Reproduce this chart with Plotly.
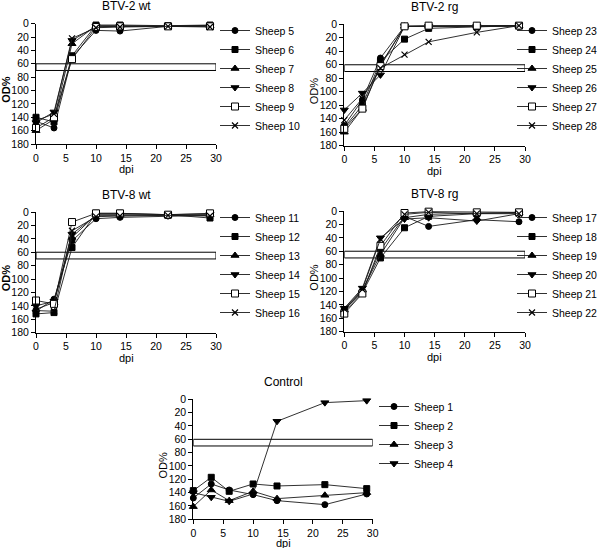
import plotly.graph_objects as go

W, H = 600, 548
days = [0, 3, 6, 10, 14, 22, 29]
x_ticks = [0, 5, 10, 15, 20, 25, 30]
y_ticks = [0, 20, 40, 60, 80, 100, 120, 140, 160, 180]
cutoff_low, cutoff_high = 60, 70

# ---- data (OD% per sheep) ----
btv2wt_names = ["Sheep 5", "Sheep 6", "Sheep 7", "Sheep 8", "Sheep 9", "Sheep 10"]
btv2wt_vals = [
    [146, 156, 50, 10, 11, 4, 3],
    [140, 147, 48, 2, 2, 3, 2],
    [160, 143, 30, 3, 3, 4, 3],
    [148, 132, 25, 4, 4, 3, 3],
    [156, 140, 53, 5, 4, 4, 4],
    [145, 135, 22, 6, 5, 4, 5],
]

btv2rg_names = ["Sheep 23", "Sheep 24", "Sheep 25", "Sheep 26", "Sheep 27", "Sheep 28"]
btv2rg_vals = [
    [150, 112, 50, 3, 3, 3, 3],
    [153, 120, 55, 22, 6, 4, 2],
    [160, 125, 60, 3, 3, 2, 2],
    [127, 102, 75, 3, 3, 3, 2],
    [155, 125, 62, 3, 2, 2, 2],
    [142, 110, 65, 45, 26, 12, 2],
]

btv8wt_names = ["Sheep 11", "Sheep 12", "Sheep 13", "Sheep 14", "Sheep 15", "Sheep 16"]
btv8wt_vals = [
    [148, 130, 43, 10, 8, 6, 5],
    [152, 150, 53, 2, 2, 4, 9],
    [145, 135, 38, 4, 4, 5, 4],
    [140, 133, 33, 5, 5, 4, 3],
    [132, 137, 15, 2, 2, 4, 2],
    [147, 148, 28, 7, 6, 5, 6],
]

btv8rg_names = ["Sheep 17", "Sheep 18", "Sheep 19", "Sheep 20", "Sheep 21", "Sheep 22"]
btv8rg_vals = [
    [147, 120, 58, 8, 23, 13, 16],
    [150, 122, 70, 25, 8, 4, 2],
    [148, 118, 65, 10, 5, 3, 3],
    [145, 115, 40, 12, 10, 15, 4],
    [153, 123, 52, 3, 1, 2, 2],
    [146, 117, 42, 5, 2, 4, 4],
]

control_names = ["Sheep 1", "Sheep 2", "Sheep 3", "Sheep 4"]
control_vals = [
    [148, 127, 136, 143, 152, 158, 142],
    [137, 117, 138, 127, 130, 128, 134],
    [161, 136, 152, 138, 149, 144, 140],
    [140, 147, 153, 142, 33, 5, 2],
]

panel_titles = ["BTV-2 wt", "BTV-2 rg", "BTV-8 wt", "BTV-8 rg", "Control"]

# ---- layout geometry (pixels) ----
def px_x(p):
    return p / W

def px_y(p):
    return 1 - p / H

panels = [
    dict(names=btv2wt_names, vals=btv2wt_vals, x=(36, 216), y=(23.7, 144), bold=True,
         leg=(215, 16), dpi=169),
    dict(names=btv2rg_names, vals=btv2rg_vals, x=(344.3, 525), y=(24.3, 145.7), bold=False,
         leg=(512, 16), dpi=170.5),
    dict(names=btv8wt_names, vals=btv8wt_vals, x=(36, 216), y=(212, 332.7), bold=True,
         leg=(215, 203), dpi=357.5),
    dict(names=btv8rg_names, vals=btv8rg_vals, x=(344.3, 525), y=(211, 331.7), bold=False,
         leg=(512, 203), dpi=356.5),
    dict(names=control_names, vals=control_vals, x=(193.3, 372.7), y=(399.3, 519.3), bold=False,
         leg=(374, 392), dpi=542.5),
]

symbols = ["circle", "square", "triangle-up", "triangle-down", "square", "x-thin-open"]
fills = ["black", "black", "black", "black", "white", "black"]
sizes = [6, 6, 7, 7, 7, 6]

FONT = "Liberation Sans, Arial, sans-serif"
fig = go.Figure()
annotations = []
shapes = []

for i, p in enumerate(panels):
    k = "" if i == 0 else str(i + 1)
    xa, ya = "x" + k, "y" + k
    leg = "legend" + k
    for j, (name, vals) in enumerate(zip(p["names"], p["vals"])):
        fig.add_trace(go.Scatter(
            x=days, y=vals, name=name, mode="lines+markers",
            xaxis=xa, yaxis=ya, legend=leg, cliponaxis=False,
            line=dict(color="#1a1a1a", width=0.9),
            marker=dict(symbol=symbols[j], size=sizes[j], color=fills[j],
                        line=dict(color="black", width=1.2 if j == 5 else 1)),
        ))
    axis_common = dict(showline=True, linecolor="black", linewidth=1, ticks="outside",
                       ticklen=4, tickwidth=1, tickcolor="black", showgrid=False,
                       zeroline=False, tickfont=dict(family=FONT, size=10.5, color="black"),
                       fixedrange=True, automargin=False)
    fig.update_layout(**{
        "xaxis" + k: dict(domain=[px_x(p["x"][0]), px_x(p["x"][1])], range=[0, 30],
                          tickvals=x_ticks, anchor=ya, **axis_common),
        "yaxis" + k: dict(domain=[px_y(p["y"][1]), px_y(p["y"][0])], range=[180, 0],
                          tickvals=y_ticks, anchor=xa, **axis_common),
        leg: dict(x=px_x(p["leg"][0]), y=px_y(p["leg"][1]), xanchor="left", yanchor="top",
                  xref="paper", yref="paper", bgcolor="rgba(0,0,0,0)",
                  font=dict(family=FONT, size=10.5, color="black"),
                  itemwidth=30, tracegroupgap=0),
    })
    shapes.append(dict(type="rect", xref=xa, yref=ya, x0=0, x1=30,
                       y0=cutoff_low, y1=cutoff_high, layer="below",
                       line=dict(color="black", width=1), fillcolor="white"))
    cx = (p["x"][0] + p["x"][1]) / 2
    annotations.append(dict(text=panel_titles[i], xref="paper", yref="paper",
                            x=px_x(cx), y=px_y(p["y"][0] - 17.5), showarrow=False,
                            xanchor="center", yanchor="middle",
                            font=dict(family=FONT, size=12, color="black")))
    annotations.append(dict(text="dpi", xref="paper", yref="paper",
                            x=px_x(cx), y=px_y(p["dpi"]), showarrow=False,
                            xanchor="center", yanchor="middle",
                            font=dict(family=FONT, size=11, color="black")))
    cy = (p["y"][0] + p["y"][1]) / 2
    od = "<b>OD%</b>" if p["bold"] else "OD%"
    annotations.append(dict(text=od, xref="paper", yref="paper",
                            x=px_x(p["x"][0] - 30), y=px_y(cy + 6), showarrow=False,
                            textangle=-90, xanchor="center", yanchor="middle",
                            font=dict(family=FONT, size=11, color="black")))

fig.update_layout(width=W, height=H,
                  margin=dict(l=0, r=0, t=0, b=0, autoexpand=False),
                  paper_bgcolor="white", plot_bgcolor="white",
                  shapes=shapes, annotations=annotations, showlegend=True)
fig.write_html("out.html", config={"displayModeBar": False},
               post_script="document.body.style.margin='0px';document.body.style.overflow='hidden';")
